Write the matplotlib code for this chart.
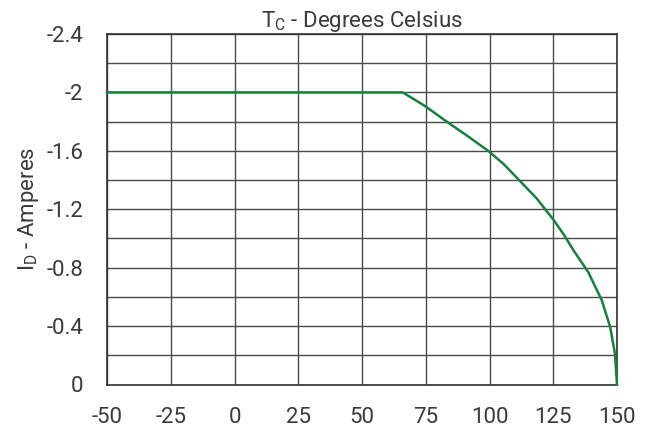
import matplotlib
matplotlib.use("Agg")
import matplotlib.pyplot as plt

plt.rcParams['font.family'] = ['Roboto', 'DejaVu Sans']
plt.rcParams['mathtext.fontset'] = 'custom'
plt.rcParams['mathtext.rm'] = 'Roboto'
plt.rcParams['mathtext.it'] = 'Roboto'
plt.rcParams['axes.unicode_minus'] = False

# derating curve
temp_c = [-50, 66, 74.7, 83.2, 91.5, 99.5, 105.5, 110.7, 118.5, 125, 129, 132.9, 138.7, 144, 147.3, 149.2, 150]
drain_a = [-2.0, -2.0, -1.907, -1.80, -1.70, -1.60, -1.51, -1.416, -1.274, -1.13, -1.03, -0.92, -0.77, -0.578, -0.395, -0.21, 0.0]

x_ticks = [-50, -25, 0, 25, 50, 75, 100, 125, 150]
y_ticks = [0, -0.4, -0.8, -1.2, -1.6, -2.0, -2.4]
y_labels = ['0', '-0.4', '-0.8', '-1.2', '-1.6', '-2', '-2.4']
y_grid = [-0.2, -0.6, -1.0, -1.4, -1.8, -2.2]

txt = '#3a3a3a'
fs = 16

fig = plt.figure(figsize=(6.54, 4.29), dpi=100)
ax = fig.add_axes([107/654, 1 - 384.5/429, 510/654, 350.5/429])

ax.set_xlim(-50, 150)
ax.set_ylim(0, -2.4)
ax.set_xticks(x_ticks)
ax.set_yticks(y_ticks)
ax.set_yticklabels(y_labels)
ax.tick_params(length=0, labelsize=fs, labelcolor=txt)
ax.tick_params(axis='x', pad=16)
ax.tick_params(axis='y', pad=17)

for x in x_ticks:
    ax.axvline(x, color='#4a4a4a', lw=1.0, zorder=1)
for y in y_ticks + y_grid:
    ax.axhline(y, color='#4a4a4a', lw=1.0, zorder=1)
for s in ax.spines.values():
    s.set_color('#333333')
    s.set_linewidth(1.2)

ax.plot(temp_c, drain_a, color='#17803d', lw=1.8, zorder=3, clip_on=False)

ax.set_title(r'T$_{\rm C}$ - Degrees Celsius', fontsize=fs, color=txt, pad=3)
ax.set_ylabel(r'I$_{\rm D}$ - Amperes', fontsize=fs, color=txt, labelpad=4)

fig.savefig('out.png', dpi=100)
